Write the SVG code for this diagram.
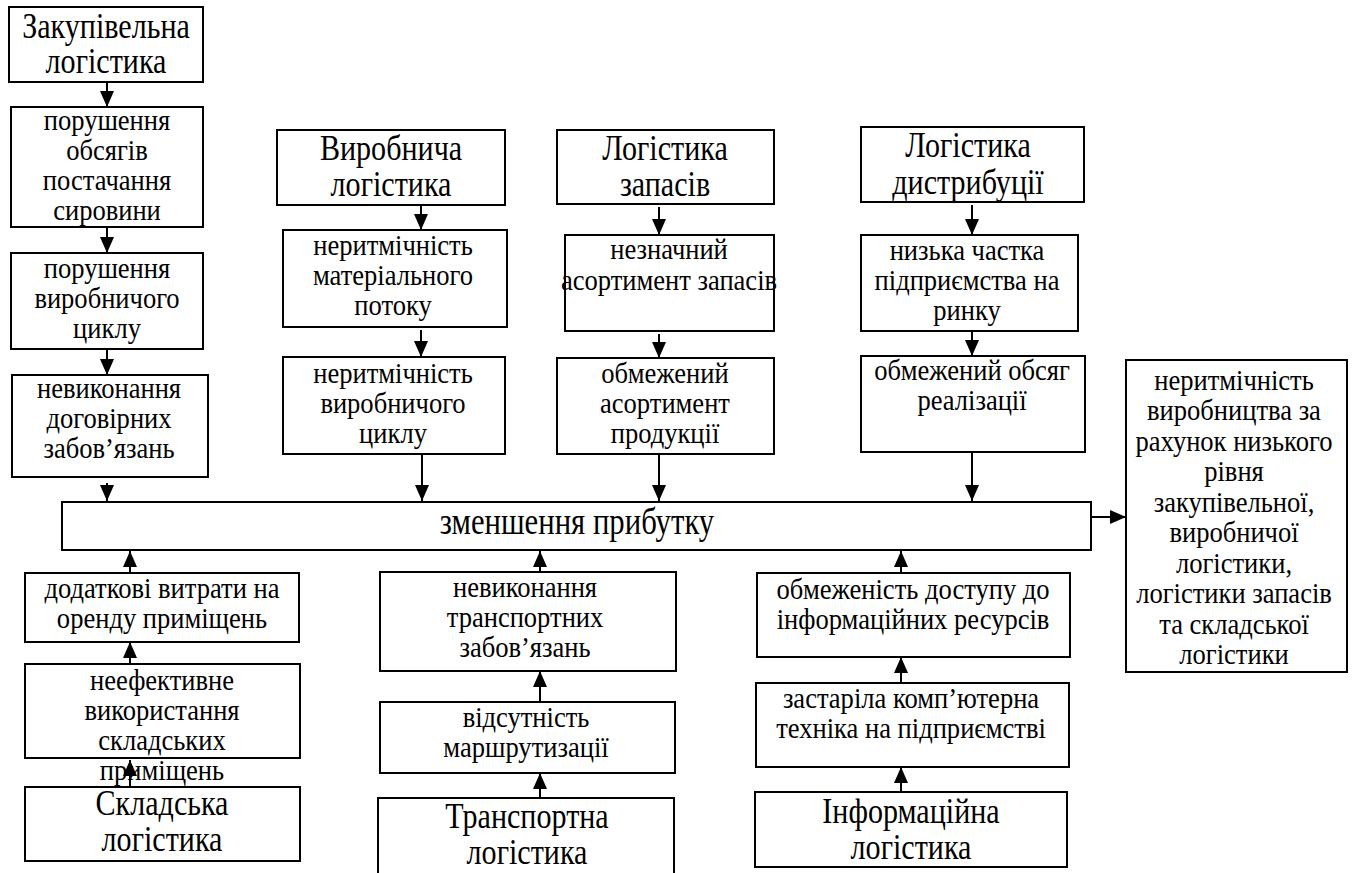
<svg xmlns="http://www.w3.org/2000/svg" width="1354" height="873" viewBox="0 0 1354 873" font-family="'Liberation Serif', 'Times New Roman', 'DejaVu Serif', serif">
<style>
.box{fill:#fff;stroke:#000;stroke-width:2}
.tx{fill:#000;text-anchor:middle}
.t{font-size:35px}
.b{font-size:29.5px}
.m{font-size:37px}
#connectors line{stroke:#000;stroke-width:2;marker-end:url(#ah)}
</style>
<defs>
<marker id="ah" markerUnits="userSpaceOnUse" markerWidth="16" markerHeight="14" refX="16" refY="7" orient="auto">
<path d="M0,0 L16,7 L0,14 Z" fill="#000"/>
</marker>
</defs>
<rect width="1354" height="873" fill="#fff"/>

<g id="zak-title"><rect class="box" x="9" y="7" width="194" height="75"/>
<text class="tx t" transform="translate(106 0) scale(0.86 1)"><tspan x="0" y="38">Закупівельна</tspan><tspan x="0" y="73">логістика</tspan></text></g>
<g id="zak-1"><rect class="box" x="11" y="107" width="192" height="120"/>
<text class="tx b" transform="translate(107 0) scale(0.9 1)"><tspan x="0" y="130">порушення</tspan><tspan x="0" y="160">обсягів</tspan><tspan x="0" y="190">постачання</tspan><tspan x="0" y="220">сировини</tspan></text></g>
<g id="zak-2"><rect class="box" x="11" y="253" width="192" height="96"/>
<text class="tx b" transform="translate(107 0) scale(0.9 1)"><tspan x="0" y="278">порушення</tspan><tspan x="0" y="308">виробничого</tspan><tspan x="0" y="338">циклу</tspan></text></g>
<g id="zak-3"><rect class="box" x="12" y="375" width="196" height="102"/>
<text class="tx b" transform="translate(109 0) scale(0.9 1)"><tspan x="0" y="398">невиконання</tspan><tspan x="0" y="428">договірних</tspan><tspan x="0" y="458">забов’язань</tspan></text></g>

<g id="vyr-title"><rect class="box" x="277" y="130" width="228" height="75"/>
<text class="tx t" transform="translate(391 0) scale(0.86 1)"><tspan x="0" y="160">Виробнича</tspan><tspan x="0" y="196">логістика</tspan></text></g>
<g id="vyr-1"><rect class="box" x="283" y="230" width="224" height="97"/>
<text class="tx b" transform="translate(393 0) scale(0.9 1)"><tspan x="0" y="255">неритмічність</tspan><tspan x="0" y="285">матеріального</tspan><tspan x="0" y="315">потоку</tspan></text></g>
<g id="vyr-2"><rect class="box" x="283" y="357" width="222" height="97"/>
<text class="tx b" transform="translate(393 0) scale(0.9 1)"><tspan x="0" y="383">неритмічність</tspan><tspan x="0" y="413">виробничого</tspan><tspan x="0" y="443">циклу</tspan></text></g>

<g id="zap-title"><rect class="box" x="557" y="130" width="217" height="74"/>
<text class="tx t" transform="translate(665 0) scale(0.86 1)"><tspan x="0" y="160">Логістика</tspan><tspan x="0" y="196">запасів</tspan></text></g>
<g id="zap-1"><rect class="box" x="565" y="235" width="209" height="96"/>
<text class="tx b" transform="translate(669 0) scale(0.9 1)"><tspan x="0" y="259">незначний</tspan><tspan x="0" y="290">асортимент запасів</tspan></text></g>
<g id="zap-2"><rect class="box" x="557" y="358" width="217" height="96"/>
<text class="tx b" transform="translate(665 0) scale(0.9 1)"><tspan x="0" y="383">обмежений</tspan><tspan x="0" y="413">асортимент</tspan><tspan x="0" y="443">продукції</tspan></text></g>

<g id="dys-title"><rect class="box" x="861" y="127" width="223" height="75"/>
<text class="tx t" transform="translate(968 0) scale(0.86 1)"><tspan x="0" y="157">Логістика</tspan><tspan x="0" y="194">дистрибуції</tspan></text></g>
<g id="dys-1"><rect class="box" x="861" y="235" width="217" height="96"/>
<text class="tx b" transform="translate(967 0) scale(0.9 1)"><tspan x="0" y="260">низька частка</tspan><tspan x="0" y="290">підприємства на</tspan><tspan x="0" y="320">ринку</tspan></text></g>
<g id="dys-2"><rect class="box" x="861" y="356" width="224" height="96"/>
<text class="tx b" transform="translate(972 0) scale(0.9 1)"><tspan x="0" y="380">обмежений обсяг</tspan><tspan x="0" y="410">реалізації</tspan></text></g>

<g id="main"><rect class="box" x="62" y="502" width="1029" height="48"/>
<text class="tx m" transform="translate(577 0) scale(0.83 1)"><tspan x="0" y="534">зменшення прибутку</tspan></text></g>

<g id="result"><rect class="box" x="1126" y="360" width="221" height="312"/>
<text class="tx b" transform="translate(1234 0) scale(0.9 1)"><tspan x="0" y="390">неритмічність</tspan><tspan x="0" y="420.5">виробництва за</tspan><tspan x="0" y="451">рахунок низького</tspan><tspan x="0" y="481.5">рівня</tspan><tspan x="0" y="512">закупівельної,</tspan><tspan x="0" y="542.5">виробничої</tspan><tspan x="0" y="573">логістики,</tspan><tspan x="0" y="603.5">логістики запасів</tspan><tspan x="0" y="634">та складської</tspan><tspan x="0" y="664.5">логістики</tspan></text></g>

<g id="skl-1"><rect class="box" x="25" y="573" width="274" height="69"/>
<text class="tx b" transform="translate(162 0) scale(0.9 1)"><tspan x="0" y="598">додаткові витрати на</tspan><tspan x="0" y="628">оренду приміщень</tspan></text></g>
<g id="skl-2"><rect class="box" x="25" y="664" width="275" height="94"/>
<text class="tx b" transform="translate(162 0) scale(0.9 1)"><tspan x="0" y="690">неефективне</tspan><tspan x="0" y="720">використання</tspan><tspan x="0" y="750">складських</tspan><tspan x="0" y="780">приміщень</tspan></text></g>
<g id="skl-title"><rect class="box" x="25" y="787" width="275" height="74"/>
<text class="tx t" transform="translate(162 0) scale(0.86 1)"><tspan x="0" y="815">Складська</tspan><tspan x="0" y="851">логістика</tspan></text></g>

<g id="tr-1"><rect class="box" x="380" y="572" width="296" height="99"/>
<text class="tx b" transform="translate(525 0) scale(0.9 1)"><tspan x="0" y="597">невиконання</tspan><tspan x="0" y="627">транспортних</tspan><tspan x="0" y="657">забов’язань</tspan></text></g>
<g id="tr-2"><rect class="box" x="380" y="702" width="295" height="71"/>
<text class="tx b" transform="translate(526 0) scale(0.9 1)"><tspan x="0" y="727">відсутність</tspan><tspan x="0" y="757">маршрутизації</tspan></text></g>
<g id="tr-title"><rect class="box" x="378" y="798" width="296" height="90"/>
<text class="tx t" transform="translate(527 0) scale(0.86 1)"><tspan x="0" y="828">Транспортна</tspan><tspan x="0" y="864">логістика</tspan></text></g>

<g id="inf-1"><rect class="box" x="757" y="573" width="313" height="84"/>
<text class="tx b" transform="translate(913 0) scale(0.9 1)"><tspan x="0" y="599">обмеженість доступу до</tspan><tspan x="0" y="629">інформаційних ресурсів</tspan></text></g>
<g id="inf-2"><rect class="box" x="756" y="683" width="313" height="84"/>
<text class="tx b" transform="translate(911 0) scale(0.9 1)"><tspan x="0" y="708">застаріла комп’ютерна</tspan><tspan x="0" y="738">техніка на підприємстві</tspan></text></g>
<g id="inf-title"><rect class="box" x="755" y="792" width="312" height="75"/>
<text class="tx t" transform="translate(911 0) scale(0.86 1)"><tspan x="0" y="823">Інформаційна</tspan><tspan x="0" y="859">логістика</tspan></text></g>

<g id="connectors">
<line x1="107" y1="82" x2="107" y2="107"/>
<line x1="107" y1="227" x2="107" y2="253"/>
<line x1="107" y1="349" x2="107" y2="375"/>
<line x1="107" y1="483" x2="107" y2="501"/>
<line x1="421" y1="205" x2="421" y2="230"/>
<line x1="421" y1="330" x2="421" y2="357"/>
<line x1="422" y1="454" x2="422" y2="501"/>
<line x1="659" y1="207" x2="659" y2="235"/>
<line x1="659" y1="334" x2="659" y2="358"/>
<line x1="659" y1="454" x2="659" y2="501"/>
<line x1="972" y1="205" x2="972" y2="235"/>
<line x1="972" y1="331" x2="972" y2="356"/>
<line x1="972" y1="452" x2="972" y2="501"/>
<line x1="1091" y1="517" x2="1126" y2="517"/>
<line x1="130" y1="573" x2="130" y2="551"/>
<line x1="130" y1="664" x2="130" y2="642"/>
<line x1="130" y1="787" x2="130" y2="760"/>
<line x1="540" y1="572" x2="540" y2="551"/>
<line x1="540" y1="702" x2="540" y2="671"/>
<line x1="540" y1="798" x2="540" y2="773"/>
<line x1="901" y1="573" x2="901" y2="551"/>
<line x1="901" y1="683" x2="901" y2="657"/>
<line x1="901" y1="792" x2="901" y2="767"/>
</g>
</svg>
